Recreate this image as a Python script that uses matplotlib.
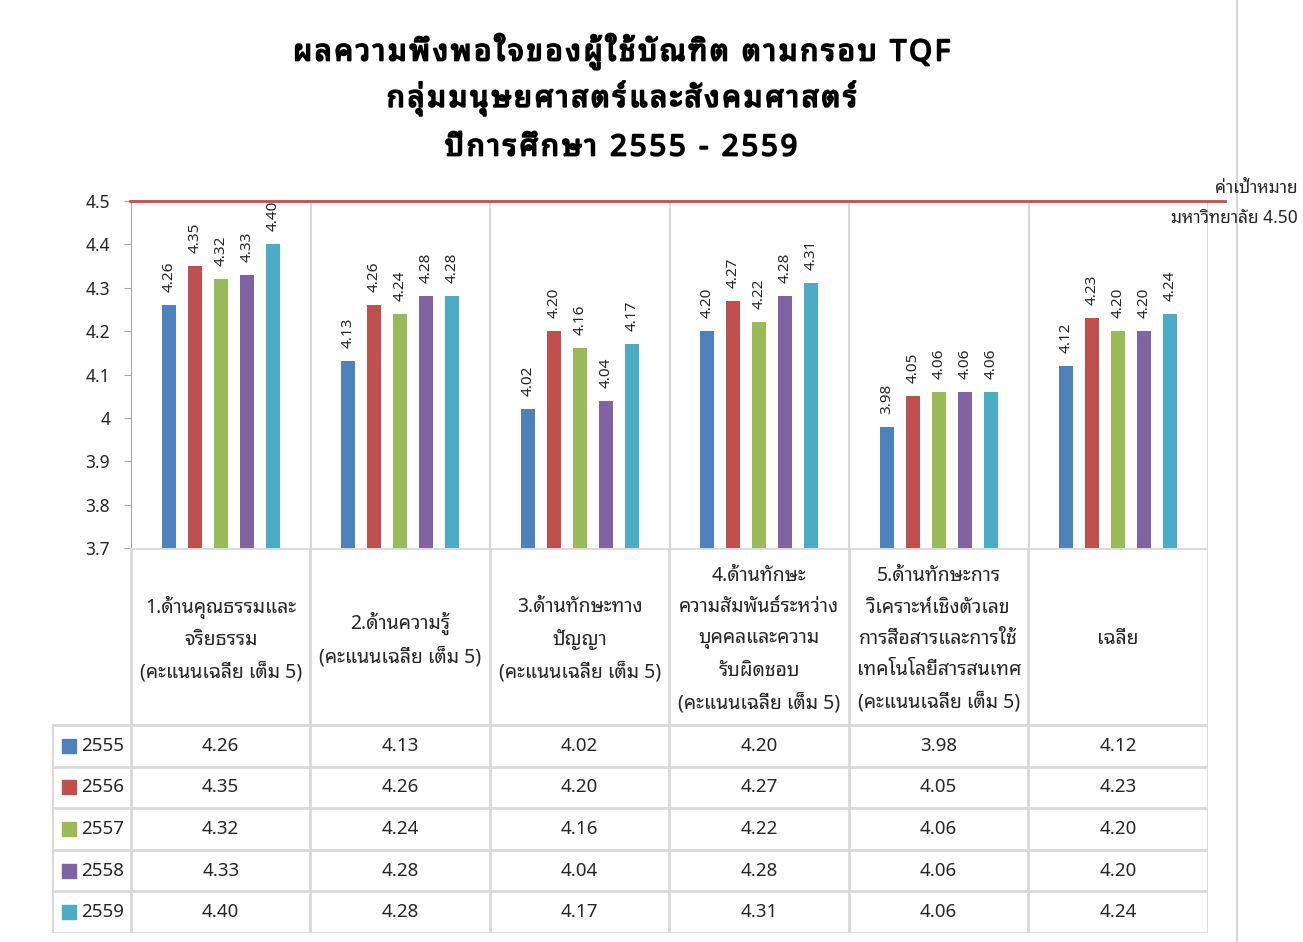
import matplotlib
matplotlib.use("Agg")
import matplotlib.pyplot as plt
import matplotlib.patheffects as pe
from matplotlib.lines import Line2D
from matplotlib.transforms import blended_transform_factory

plt.rcParams["font.family"] = ["Noto Sans Thai Looped", "DejaVu Sans"]

# data
years = ["2555", "2556", "2557", "2558", "2559"]
categories = [
    "1.ด้านคุณธรรมและ\nจริยธรรม\n(คะแนนเฉลี่ย เต็ม 5)",
    "2.ด้านความรู้\n(คะแนนเฉลี่ย เต็ม 5)",
    "3.ด้านทักษะทาง\nปัญญา\n(คะแนนเฉลี่ย เต็ม 5)",
    "4.ด้านทักษะ\nความสัมพันธ์ระหว่าง\nบุคคลและความ\nรับผิดชอบ\n(คะแนนเฉลี่ย เต็ม 5)",
    "5.ด้านทักษะการ\nวิเคราะห์เชิงตัวเลข\nการสื่อสารและการใช้\nเทคโนโลยีสารสนเทศ\n(คะแนนเฉลี่ย เต็ม 5)",
    "เฉลี่ย",
]
v2555 = [4.26, 4.13, 4.02, 4.20, 3.98, 4.12]
v2556 = [4.35, 4.26, 4.20, 4.27, 4.05, 4.23]
v2557 = [4.32, 4.24, 4.16, 4.22, 4.06, 4.20]
v2558 = [4.33, 4.28, 4.04, 4.28, 4.06, 4.20]
v2559 = [4.40, 4.28, 4.17, 4.31, 4.06, 4.24]
series = [v2555, v2556, v2557, v2558, v2559]
target = 4.50
yticks = [3.7, 3.8, 3.9, 4.0, 4.1, 4.2, 4.3, 4.4, 4.5]
ytick_labels = ["3.7", "3.8", "3.9", "4", "4.1", "4.2", "4.3", "4.4", "4.5"]
title_lines = ["ผลความพึงพอใจของผู้ใช้บัณฑิต ตามกรอบ TQF",
               "กลุ่มมนุษยศาสตร์และสังคมศาสตร์",
               "ปีการศึกษา 2555 - 2559"]

colors = ["#4F81BD", "#C0504D", "#9BBB59", "#8064A2", "#4BACC6"]
grid = "#D9D9D9"
txt = "#262626"


def spaced(s):
    # wide letter spacing: hair space after each base char (Thai marks stay attached)
    marks = set([0x0E31] + list(range(0x0E34, 0x0E3B)) + list(range(0x0E47, 0x0E4F)))
    out = ""
    for ch in s:
        if out and ord(ch) not in marks:
            out += "\u200a"
        out += ch
    return out


W, H = 1303, 942
fig = plt.figure(figsize=(W / 100, H / 100), dpi=100)

# chart
ax = fig.add_axes([131 / W, 1 - 548 / H, (1208 - 131) / W, (548 - 201) / H])
ax.set_xlim(0, 6)
ax.set_ylim(3.7, 4.5)
step, bw = 0.145, 0.078
for j, vals in enumerate(series):
    xs = [i + 0.5 + (j - 2) * step for i in range(len(vals))]
    ax.bar(xs, [v - 3.7 for v in vals], bottom=3.7, width=bw, color=colors[j], zorder=3)
    for x, v in zip(xs, vals):
        ax.text(x, v + 0.03, f"{v:.2f}", rotation=90, ha="center", va="bottom",
                fontsize=11, color=txt)
for i in range(1, 7):
    ax.axvline(i, color=grid, lw=1.5, zorder=1)
ax.set_xticks([])
ax.set_yticks(yticks)
ax.set_yticklabels(ytick_labels, fontsize=12.5, color=txt)
ax.tick_params(axis="y", length=5, color="#A6A6A6", pad=10)
for s in ["top", "right", "bottom"]:
    ax.spines[s].set_visible(False)
ax.spines["left"].set_color("#A6A6A6")

# target line
tr = blended_transform_factory(fig.transFigure, ax.transData)
fig.add_artist(Line2D([130 / W, 1225 / W], [target, target], color="#C0504D", lw=2,
                      transform=tr, zorder=5))
fig.text(1298 / W, 1 - 188 / H, "ค่าเป้าหมาย", ha="right", va="center", fontsize=12.5, color=txt)
fig.text(1298 / W, 1 - 218 / H, "มหาวิทยาลัย 4.50", ha="right", va="center", fontsize=12.5, color=txt)

bold = [pe.withStroke(linewidth=1.3, foreground="black")]
for line, y in zip(title_lines, [51, 98, 148]):
    fig.text(621 / W, 1 - y / H, spaced(line), ha="center", va="center", fontsize=21,
             color="black", path_effects=bold)

# data table
tax = fig.add_axes([52 / W, 1 - 933 / H, (1208 - 52) / W, (933 - 548) / H])
tax.set_xlim(-0.44, 6)
tax.set_ylim(385, 0)
tax.axis("off")
hdr = 177
rh = (385 - hdr) / 5
for k in range(6):
    y = hdr + k * rh
    tax.add_line(Line2D([-0.44, 6], [y, y], color=grid, lw=2))
tax.add_line(Line2D([0, 6], [0, 0], color=grid, lw=2))
tax.add_line(Line2D([-0.44, -0.44], [hdr, 385], color=grid, lw=2))
for i in range(7):
    tax.add_line(Line2D([i, i], [0, 385], color=grid, lw=2))
for i, c in enumerate(categories):
    tax.text(i + 0.5, hdr / 2 + 3, c, ha="center", va="center", fontsize=14, color=txt,
             linespacing=1.75)
for j, vals in enumerate(series):
    yc = hdr + (j + 0.5) * rh
    tax.add_patch(plt.Rectangle((-0.385, yc - 7), 0.08, 14, color=colors[j]))
    tax.text(-0.275, yc, years[j], ha="left", va="center", fontsize=13.5, color=txt)
    for i, v in enumerate(vals):
        tax.text(i + 0.5, yc, f"{v:.2f}", ha="center", va="center", fontsize=13.5, color=txt)

# frame line on the right
fig.add_artist(Line2D([1237 / W, 1237 / W], [0, 1], color=grid, lw=1.5))

fig.savefig("out.png", dpi=100)
